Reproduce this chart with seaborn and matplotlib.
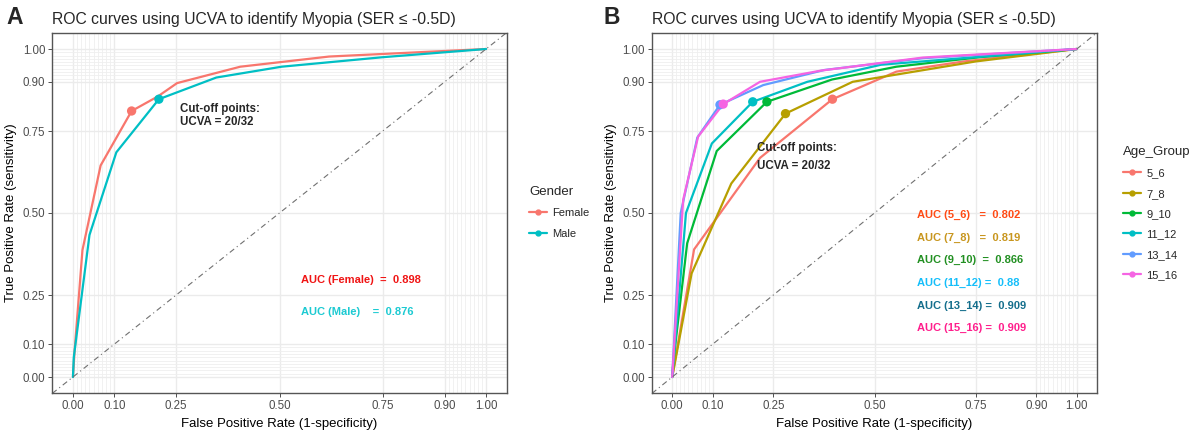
import matplotlib
matplotlib.use("Agg")
import matplotlib.pyplot as plt
from matplotlib.lines import Line2D
import numpy as np
import pandas as pd
import seaborn as sns

# ---- data ----
gender_groups = ["Female", "Male"]
female_fpr = [0, 0.004, 0.023, 0.067, 0.142, 0.205, 0.252, 0.405, 0.62, 1.0]
female_tpr = [0, 0.08, 0.387, 0.645, 0.811, 0.855, 0.896, 0.946, 0.977, 1.0]
male_fpr = [0, 0.002, 0.040, 0.105, 0.208, 0.347, 0.505, 0.75, 1.0]
male_tpr = [0, 0.06, 0.433, 0.685, 0.847, 0.913, 0.946, 0.975, 1.0]
gender_cut_fpr = [0.142, 0.208]
gender_cut_tpr = [0.811, 0.847]
gender_auc = ["AUC (Female)  =  0.898", "AUC (Male)    =  0.876"]

age_groups = ["5_6", "7_8", "9_10", "11_12", "13_14", "15_16"]
age_fpr = {
    "5_6":   [0, 0.054, 0.217, 0.396, 0.554, 0.72, 1.0],
    "7_8":   [0, 0.048, 0.146, 0.280, 0.446, 0.75, 1.0],
    "9_10":  [0, 0.003, 0.037, 0.110, 0.234, 0.395, 0.554, 0.76, 1.0],
    "11_12": [0, 0.034, 0.098, 0.199, 0.334, 0.516, 1.0],
    "13_14": [0, 0.021, 0.062, 0.118, 0.225, 0.376, 0.62, 1.0],
    "15_16": [0, 0.027, 0.064, 0.126, 0.217, 0.367, 0.62, 1.0],
}
age_tpr = {
    "5_6":   [0, 0.389, 0.668, 0.847, 0.931, 0.962, 1.0],
    "7_8":   [0, 0.316, 0.590, 0.803, 0.900, 0.962, 1.0],
    "9_10":  [0, 0.05, 0.408, 0.689, 0.839, 0.907, 0.946, 0.975, 1.0],
    "11_12": [0, 0.500, 0.712, 0.839, 0.900, 0.952, 1.0],
    "13_14": [0, 0.500, 0.730, 0.830, 0.890, 0.936, 0.972, 1.0],
    "15_16": [0, 0.540, 0.733, 0.832, 0.900, 0.934, 0.974, 1.0],
}
age_cut_fpr = [0.396, 0.280, 0.234, 0.199, 0.118, 0.126]
age_cut_tpr = [0.847, 0.803, 0.839, 0.839, 0.830, 0.832]
age_auc = ["AUC (5_6)   =  0.802", "AUC (7_8)   =  0.819", "AUC (9_10)  =  0.866",
           "AUC (11_12) =  0.88", "AUC (13_14) =  0.909", "AUC (15_16) =  0.909"]

major_breaks = [0, 0.1, 0.25, 0.5, 0.75, 0.9, 1.0]
major_labels = ["0.00", "0.10", "0.25", "0.50", "0.75", "0.90", "1.00"]
minor_breaks = [i / 100 for i in range(0, 11)] + [i / 100 for i in range(90, 101)]

# ---- styling ----
sns.set_theme(style="white")
plt.rcParams["font.family"] = ["Liberation Sans", "DejaVu Sans"]

pal2 = ["#F8766D", "#00BFC4"]
pal6 = ["#F8766D", "#B79F00", "#00BA38", "#00BFC4", "#619CFF", "#F564E3"]
gender_auc_cols = ["#F01414", "#1CCAD2"]
age_auc_cols = ["#FF4A14", "#C8961E", "#229022", "#14BEFA", "#146E8C", "#FF1E8C"]

W, H = 1198, 430
fig = plt.figure(figsize=(W / 100, H / 100), dpi=100)


def style_axes(ax, title, letter, letter_x):
    ax.set_xlim(-0.05, 1.05)
    ax.set_ylim(-0.05, 1.05)
    ax.set_xticks(minor_breaks, minor=True)
    ax.set_yticks(minor_breaks, minor=True)
    ax.set_xticks(major_breaks)
    ax.set_yticks(major_breaks)
    ax.set_xticklabels(major_labels)
    ax.set_yticklabels(major_labels)
    ax.grid(which="major", color="#EBEBEB", linewidth=1.0)
    ax.grid(which="minor", color="#EFEFEF", linewidth=0.6)
    ax.set_axisbelow(True)
    ax.tick_params(which="major", direction="out", length=3, width=0.6, color="#333333",
                   labelsize=8.3, labelcolor="#4D4D4D", pad=2, bottom=True, left=True)
    ax.tick_params(which="minor", length=0)
    for s in ax.spines.values():
        s.set_color("#555555")
        s.set_linewidth(1.0)
    ax.set_xlabel("False Positive Rate (1-specificity)", fontsize=9.5, color="black", labelpad=4)
    ax.set_ylabel("True Positive Rate (sensitivity)", fontsize=9.5, color="black", labelpad=4)
    ax.set_title(title, loc="left", fontsize=11.3, pad=6)
    fig.text(letter_x, 1 - 17 / H, letter, fontsize=16.5, fontweight="bold", va="center", ha="center")
    ax.plot([-0.05, 1.05], [-0.05, 1.05], color="#707070", linewidth=0.8,
            dashes=(5, 3, 1, 3))


title = "ROC curves using UCVA to identify Myopia (SER \u2264 -0.5D)"
leg_kw = dict(loc="upper left", bbox_transform=fig.transFigure, frameon=False, fontsize=8,
              title_fontsize=9.5, handlelength=1.6, handletextpad=0.5,
              labelspacing=0.93, alignment="left")

# ---- panel A ----
axA = fig.add_axes([52.3 / W, 1 - 393.4 / H, 454.4 / W, 360.8 / H])
dfA = pd.DataFrame({
    "fpr": female_fpr + male_fpr,
    "tpr": female_tpr + male_tpr,
    "Gender": ["Female"] * len(female_fpr) + ["Male"] * len(male_fpr),
})
sns.lineplot(data=dfA, x="fpr", y="tpr", hue="Gender", palette=pal2, sort=False,
             estimator=None, linewidth=1.6, legend=False, ax=axA)
cutA = pd.DataFrame({"fpr": gender_cut_fpr, "tpr": gender_cut_tpr, "Gender": gender_groups})
sns.scatterplot(data=cutA, x="fpr", y="tpr", hue="Gender", palette=pal2, s=45,
                linewidth=0, legend=False, ax=axA, zorder=5)
style_axes(axA, title, "A", 15 / W)
axA.text(0.26, 0.797, "Cut-off points:\nUCVA = 20/32", fontsize=8.3, fontweight="bold",
         va="center", ha="left", linespacing=1.1)
for i, (t, c) in enumerate(zip(gender_auc, gender_auc_cols)):
    axA.text(0.552, 0.296 - i * 0.098, t, color=c, fontsize=8, fontweight="bold", va="center")

handlesA = [Line2D([0], [0], color=c, linewidth=1.6, marker="o", markersize=3.5) for c in pal2]
axA.legend(handlesA, gender_groups, title="Gender",
           bbox_to_anchor=(519 / W, 1 - 176 / H), **leg_kw)

# ---- panel B ----
axB = fig.add_axes([652 / W, 1 - 393.4 / H, 445 / W, 360.8 / H])
rows = []
for g in age_groups:
    for x, y in zip(age_fpr[g], age_tpr[g]):
        rows.append((x, y, g))
dfB = pd.DataFrame(rows, columns=["fpr", "tpr", "Age_Group"])
sns.lineplot(data=dfB, x="fpr", y="tpr", hue="Age_Group", hue_order=age_groups,
             palette=pal6, sort=False, estimator=None, linewidth=1.6, legend=False, ax=axB)
cutB = pd.DataFrame({"fpr": age_cut_fpr, "tpr": age_cut_tpr, "Age_Group": age_groups})
sns.scatterplot(data=cutB, x="fpr", y="tpr", hue="Age_Group", hue_order=age_groups,
                palette=pal6, s=45, linewidth=0, legend=False, ax=axB, zorder=5)
style_axes(axB, title, "B", 612 / W)
axB.text(0.21, 0.672, "Cut-off points:\nUCVA = 20/32", fontsize=8.3, fontweight="bold",
         va="center", ha="left", linespacing=1.65)
for i, (t, c) in enumerate(zip(age_auc, age_auc_cols)):
    axB.text(0.605, 0.494 - i * 0.069, t, color=c, fontsize=8, fontweight="bold", va="center")

handlesB = [Line2D([0], [0], color=c, linewidth=1.6, marker="o", markersize=3.5) for c in pal6]
axB.legend(handlesB, age_groups, title="Age_Group",
           bbox_to_anchor=(1113 / W, 1 - 136 / H), **leg_kw)

fig.savefig("out.png", dpi=100)
